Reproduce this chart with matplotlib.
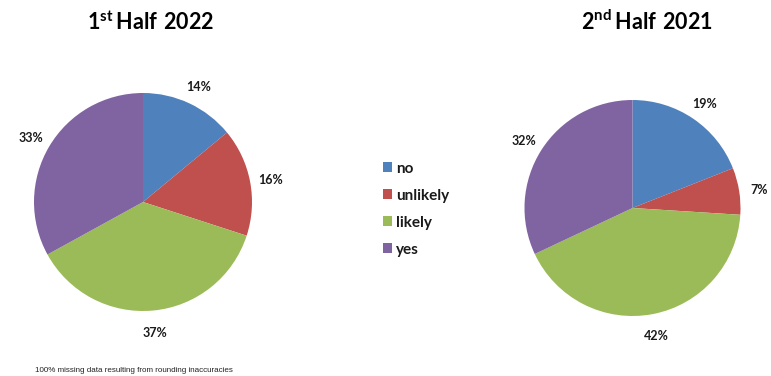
import matplotlib.pyplot as plt

plt.rcParams['font.family'] = ['Lato', 'DejaVu Sans']
plt.rcParams['mathtext.fontset'] = 'custom'
plt.rcParams['mathtext.bf'] = 'Lato:bold'
plt.rcParams['mathtext.rm'] = 'Lato:bold'

categories = ['no', 'unlikely', 'likely', 'yes']
colors = ['#4F81BD', '#C0504D', '#9BBB59', '#8064A2']
half1_2022 = [14, 16, 37, 33]
half2_2021 = [19, 7, 42, 32]
titles = [r'$\mathbf{1^{st}\,Half\ 2022}$', r'$\mathbf{2^{nd}\,Half\ 2021}$']
note = '100% missing data resulting from rounding inaccuracies'

W, H = 771, 376
fig = plt.figure(figsize=(W / 100, H / 100), dpi=100)


def pie_axes(cx, cy, r):
    # pixel centre/radius -> figure fraction
    return fig.add_axes([(cx - r) / W, (H - cy - r) / H, 2 * r / W, 2 * r / H])


wedges = None
for vals, (cx, cy, r) in zip([half1_2022, half2_2021], [(143, 202, 109), (632.5, 208, 108)]):
    ax = pie_axes(cx, cy, r)
    wedges, _, pcts = ax.pie(vals, colors=colors, startangle=90, counterclock=False,
                             autopct='%1.0f%%', pctdistance=1.19,
                             wedgeprops=dict(linewidth=0))
    for t in pcts:
        t.set_fontsize(9)
        t.set_fontweight('bold')
        t.set_color('#1a1a1a')
        x, y = t.get_position()
        t.set_position((x, y - 2 / r))  # excel puts labels a touch lower
    ax.set_xlim(-1, 1)
    ax.set_ylim(-1, 1)
    ax.axis('off')

fig.text(151 / W, 1 - 22 / H, titles[0], ha='center', va='center', fontsize=15.5)
fig.text(647 / W, 1 - 22 / H, titles[1], ha='center', va='center', fontsize=15.5)

leg = fig.legend(wedges, categories, loc='upper left', bbox_to_anchor=(375 / W, 1 - 154 / H),
                 frameon=False, fontsize=11, handlelength=0.6, handleheight=0.6,
                 handletextpad=0.3, labelspacing=0.85, borderpad=0)
for t in leg.get_texts():
    t.set_fontweight('bold')
    t.set_color('#1a1a1a')

fig.text(35 / W, 1 - 371 / H, note, ha='left', va='center', fontsize=5.8,
         family='Liberation Sans', color='#222222')

fig.savefig('out.png', dpi=100)
